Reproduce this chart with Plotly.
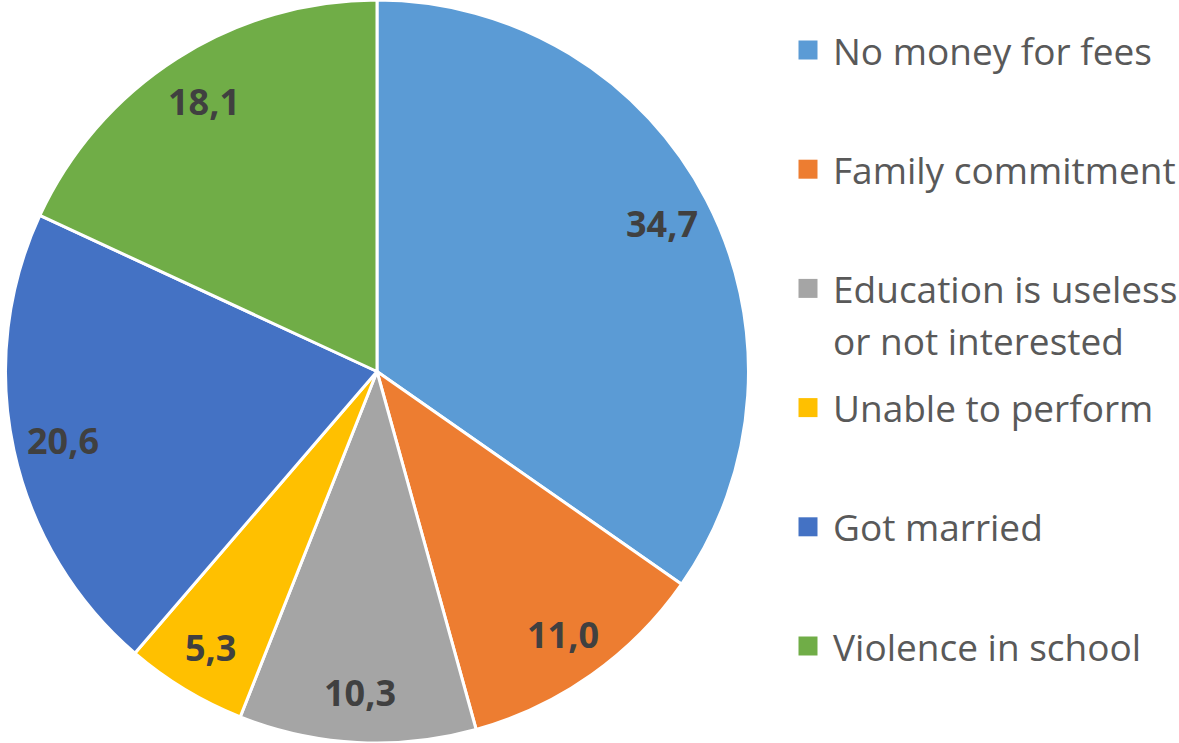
import math
import plotly.graph_objects as go

labels = ["No money for fees", "Family commitment", "Education is useless<br>or not interested",
          "Unable to perform", "Got married", "Violence in school"]
values = [34.7, 11.0, 10.3, 5.3, 20.6, 18.1]
value_text = ["34,7", "11,0", "10,3", "5,3", "20,6", "18,1"]
colors = ["#5B9BD5", "#ED7D31", "#A5A5A5", "#FFC000", "#4472C4", "#70AD47"]

W, H = 1179, 743
cx_px, cy_px = 377, 372
R = H / 2.0
dom_x = [(cx_px - R) / W, (cx_px + R) / W]

fig = go.Figure()
fig.add_trace(go.Pie(
    labels=labels, values=values, sort=False, direction="clockwise", rotation=0,
    marker=dict(colors=colors, line=dict(color="white", width=3)),
    textinfo="none", hoverinfo="label+value", showlegend=False,
    domain=dict(x=dom_x, y=[0, 1]),
))

annotations = []
shapes = []
total = sum(values)
cum = 0.0
label_frac = 0.865
for v, t in zip(values, value_text):
    mid = (cum + v / 2) / total * 2 * math.pi
    cum += v
    px = cx_px + label_frac * R * math.sin(mid)
    py = cy_px - label_frac * R * math.cos(mid)
    annotations.append(dict(
        x=px / W, y=1 - py / H, xref="paper", yref="paper", text=t, showarrow=False,
        xanchor="center", yanchor="middle",
        font=dict(family="Open Sans", size=36, color="#404040", weight="bold"),
    ))

# manual legend
leg_top = 50
leg_step = 119.2
line_h = 52
sq = 19
sq_x = 808
txt_x = 831
for i, (lab, col) in enumerate(zip(labels, colors)):
    yc = leg_top + leg_step * i
    shapes.append(dict(
        type="rect", xref="paper", yref="paper",
        x0=(sq_x - sq / 2) / W, x1=(sq_x + sq / 2) / W,
        y0=1 - (yc + sq / 2) / H, y1=1 - (yc - sq / 2) / H,
        fillcolor=col, line=dict(width=0),
    ))
    for j, part in enumerate(lab.split("<br>")):
        annotations.append(dict(
            x=txt_x / W, y=1 - (yc + j * line_h) / H, xref="paper", yref="paper",
            text=part, showarrow=False, xanchor="left", yanchor="middle",
            font=dict(family="Open Sans", size=37, color="#595959"),
        ))

fig.update_layout(
    width=W, height=H, margin=dict(l=0, r=0, t=0, b=0),
    paper_bgcolor="white", plot_bgcolor="white",
    annotations=annotations, shapes=shapes,
)
fig.write_html("out.html", config={"displayModeBar": False},
               post_script="document.body.style.margin='0';document.body.style.overflow='hidden';")
